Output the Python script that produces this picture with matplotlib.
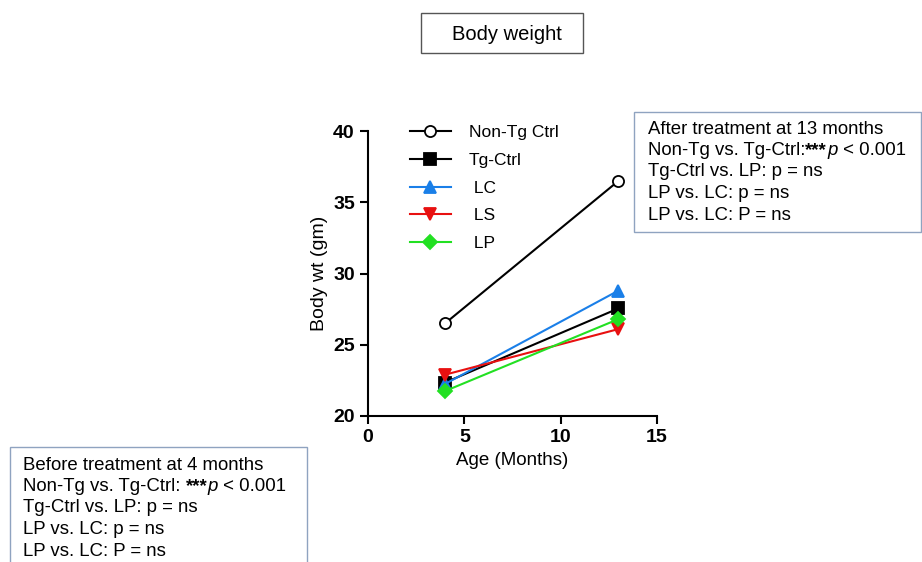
import matplotlib
matplotlib.use("Agg")
import matplotlib.pyplot as plt
from matplotlib.patches import Rectangle

plt.rcParams['font.family'] = ['Liberation Sans', 'DejaVu Sans']

ages = [4, 13]
series_names = ["Non-Tg Ctrl", "Tg-Ctrl", "LC", "LS", "LP"]
legend_labels = ["Non-Tg Ctrl", "Tg-Ctrl", " LC", " LS", " LP"]
non_tg = [26.5, 36.5]
tg_ctrl = [22.35, 27.55]
lc = [22.25, 28.8]
ls = [22.9, 26.1]
lp = [21.75, 26.8]
values = [non_tg, tg_ctrl, lc, ls, lp]
colors = ["#000000", "#000000", "#1a7fe8", "#e81010", "#22e022"]
markers = ["o", "s", "^", "v", "D"]
mfaces = ["white", "#000000", "#1a7fe8", "#e81010", "#22e022"]
msizes = [8, 8, 8, 8, 7]

# each line: list of (text, weight, style)
before_lines = [[("Before treatment at 4 months", "normal", "normal")],
                [("Non-Tg vs. Tg-Ctrl: ", "normal", "normal"), ("***", "bold", "normal"),
                 ("p", "normal", "italic"), (" < 0.001", "normal", "normal")],
                [("Tg-Ctrl vs. LP: p = ns", "normal", "normal")],
                [("LP vs. LC: p = ns", "normal", "normal")],
                [("LP vs. LC: P = ns", "normal", "normal")]]
after_lines = [[("After treatment at 13 months", "normal", "normal")],
               [("Non-Tg vs. Tg-Ctrl:", "normal", "normal"), ("***", "bold", "normal"),
                ("p", "normal", "italic"), (" < 0.001", "normal", "normal")],
               [("Tg-Ctrl vs. LP: p = ns", "normal", "normal")],
               [("LP vs. LC: p = ns", "normal", "normal")],
               [("LP vs. LC: P = ns", "normal", "normal")]]

W, H = 922, 562
fig = plt.figure(figsize=(W / 100, H / 100), dpi=100)
ax = fig.add_axes([368 / W, 1 - 416 / H, (657 - 368) / W, (416 - 131) / H])

for name, lab, v, c, m, mf, ms in zip(series_names, legend_labels, values, colors, markers, mfaces, msizes):
    ax.plot(ages, v, color=c, marker=m, markerfacecolor=mf, markeredgecolor=c,
            markersize=ms, linewidth=1.5, label=lab, clip_on=False, markeredgewidth=1.3)

ax.set_xlim(0, 15)
ax.set_ylim(20, 40)
ax.set_xticks([0, 5, 10, 15])
ax.set_yticks([20, 25, 30, 35, 40])
for s in ["top", "right"]:
    ax.spines[s].set_visible(False)
for s in ["left", "bottom"]:
    ax.spines[s].set_linewidth(1.5)
ax.tick_params(width=1.5, length=6, labelsize=14)
for t in ax.get_xticklabels() + ax.get_yticklabels():
    t.set_fontweight('bold')
ax.set_xlabel("Age (Months)", fontsize=13.5)
ax.set_ylabel("Body wt (gm)", fontsize=14)

leg = ax.legend(loc="upper left", bbox_to_anchor=(0.09, 1.075), frameon=False,
                fontsize=12.5, handlelength=2.4, labelspacing=0.72, handletextpad=1.0)

def box(x0, y0, x1, y1, ec):
    fig.patches.append(Rectangle((x0 / W, 1 - y1 / H), (x1 - x0) / W, (y1 - y0) / H,
                                 transform=fig.transFigure, facecolor="white",
                                 edgecolor=ec, linewidth=1.0, zorder=0))

box(421, 13, 583, 53, "#555555")
fig.text(507 / W, 1 - 34 / H, "Body weight", ha="center", va="center", fontsize=14.5)

renderer = fig.canvas.get_renderer()

def write_lines(lines, x0, y0, dy, fs):
    for i, parts in enumerate(lines):
        x = x0
        y = 1 - (y0 + i * dy) / H
        for txt, wt, st in parts:
            t = fig.text(x / W, y, txt, ha="left", va="center", fontsize=fs,
                         fontweight=wt, fontstyle=st)
            bb = t.get_window_extent(renderer=renderer)
            x += bb.width

box(634, 112, 921, 232, "#8fa3c0")
write_lines(after_lines, 648, 129, 21.5, 13.4)

box(10, 447, 307, 565, "#8fa3c0")
write_lines(before_lines, 23, 465, 21.5, 13.4)

fig.savefig("out.png", dpi=100, facecolor="white")
